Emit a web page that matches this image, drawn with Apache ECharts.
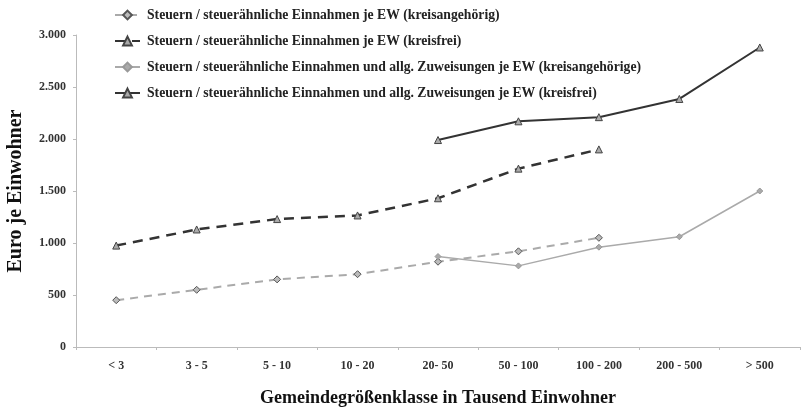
<!DOCTYPE html>
<html>
<head>
    <meta charset="utf-8">
    <style>
        html, body { margin: 0; padding: 0; background: #fff; }
        #chart { width: 806px; height: 409px; }
    </style>
    <script src="https://cdn.jsdelivr.net/npm/echarts@6/dist/echarts.min.js"></script>
</head>
<body>
    <div id="chart"></div>
    <script type="text/javascript">
        var categories = ['< 3', '3 - 5', '5 - 10', '10 - 20', '20- 50', '50 - 100', '100 - 200', '200 - 500', '> 500'];
        var steuernKreisangehoerig = [450, 550, 650, 700, 820, 920, 1050, null, null];
        var steuernKreisfrei = [975, 1130, 1230, 1265, 1430, 1715, 1900, null, null];
        var zuweisungenKreisangehoerig = [null, null, null, null, 870, 780, 960, 1060, 1500];
        var zuweisungenKreisfrei = [null, null, null, null, 1990, 2170, 2210, 2385, 2880];
        var seriesNames = [
            'Steuern / steuerähnliche Einnahmen je EW (kreisangehörig)',
            'Steuern / steuerähnliche Einnahmen je EW (kreisfrei)',
            'Steuern / steuerähnliche Einnahmen und allg. Zuweisungen je EW (kreisangehörige)',
            'Steuern / steuerähnliche Einnahmen und allg. Zuweisungen je EW (kreisfrei)'
        ];

        var font = '"Liberation Serif", "DejaVu Serif", serif';
        var myChart = echarts.init(document.getElementById('chart'));

        function fmt(v) {
            return String(v).replace(/\B(?=(\d{3})+(?!\d))/g, '.');
        }

        myChart.setOption({
            animation: false,
            backgroundColor: '#fff',
            legend: {
                orient: 'vertical',
                left: 109,
                top: 3,
                itemWidth: 25,
                itemHeight: 11,
                itemGap: 12,
                textStyle: { fontFamily: font, fontWeight: 'bold', fontSize: 13.7, color: '#222', padding: [0, 0, 0, 2] },
                data: seriesNames
            },
            grid: { left: 76, right: 6, top: 35, bottom: 62, outerBoundsMode: 'none' },
            xAxis: {
                type: 'category',
                data: categories,
                boundaryGap: true,
                name: 'Gemeindegrößenklasse in Tausend Einwohner',
                nameLocation: 'middle',
                nameGap: 42,
                nameTextStyle: { fontFamily: font, fontWeight: 'bold', fontSize: 18, color: '#111' },
                axisLine: { lineStyle: { color: '#bbb', width: 1 } },
                axisTick: { show: true, length: 3, lineStyle: { color: '#bbb' } },
                axisLabel: { fontFamily: font, fontWeight: 'bold', fontSize: 12, color: '#333', margin: 13 }
            },
            yAxis: {
                type: 'value',
                min: 0,
                max: 3000,
                interval: 500,
                name: 'Euro je Einwohner',
                nameLocation: 'middle',
                nameGap: 50,
                nameTextStyle: { fontFamily: font, fontWeight: 'bold', fontSize: 20, color: '#111' },
                axisLine: { show: true, lineStyle: { color: '#bbb', width: 1 } },
                axisTick: { show: true, length: 3, lineStyle: { color: '#bbb' } },
                splitLine: { show: false },
                axisLabel: {
                    fontFamily: font, fontWeight: 'bold', fontSize: 12, color: '#333', margin: 10,
                    formatter: fmt
                }
            },
            series: [
                {
                    name: seriesNames[0],
                    type: 'line',
                    data: steuernKreisangehoerig,
                    symbol: 'diamond',
                    symbolSize: 7,
                    lineStyle: { color: '#aaa', width: 2, type: [8, 6] },
                    itemStyle: { color: '#bbb', borderColor: '#555', borderWidth: 1 }
                },
                {
                    name: seriesNames[1],
                    type: 'line',
                    data: steuernKreisfrei,
                    symbol: 'triangle',
                    symbolSize: 7,
                    lineStyle: { color: '#333', width: 2.5, type: [10, 7] },
                    itemStyle: { color: '#aaa', borderColor: '#444', borderWidth: 1 }
                },
                {
                    name: seriesNames[2],
                    type: 'line',
                    data: zuweisungenKreisangehoerig,
                    symbol: 'diamond',
                    symbolSize: 6,
                    lineStyle: { color: '#aaa', width: 1.5 },
                    itemStyle: { color: '#aaa', borderColor: '#999', borderWidth: 1 }
                },
                {
                    name: seriesNames[3],
                    type: 'line',
                    data: zuweisungenKreisfrei,
                    symbol: 'triangle',
                    symbolSize: 7,
                    lineStyle: { color: '#333', width: 2 },
                    itemStyle: { color: '#aaa', borderColor: '#444', borderWidth: 1 }
                }
            ]
        });
    </script>
</body>
</html>
